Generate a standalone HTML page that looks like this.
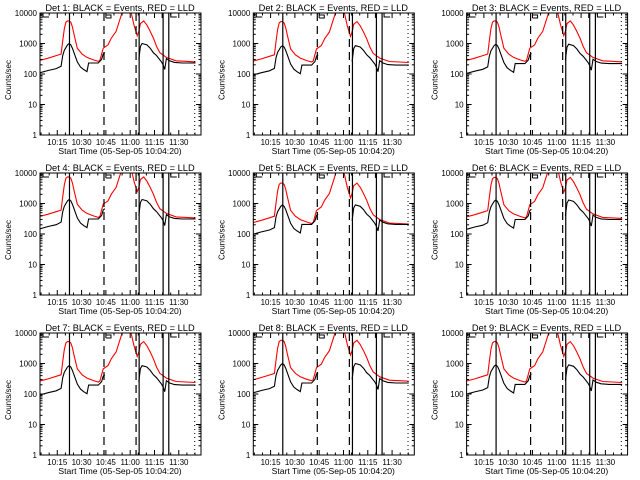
<!DOCTYPE html>
<html><head><meta charset="utf-8"><style>
html,body{margin:0;padding:0;background:#fff;}
svg{display:block;font-family:"Liberation Sans",sans-serif;}
</style></head><body>
<svg id="chart" width="640" height="480" viewBox="0 0 640 480" xmlns="http://www.w3.org/2000/svg"></svg>
<script>
// minutes after 10:04:20
const blackTimes = [0,5,10,13,14,15,17,18,19,20,21,23,25,27,29,30,32,36,38,39,40];
const blackVals  = [110,130,150,180,400,600,900,1000,900,700,500,250,170,140,120,230,230,230,300,450,500];
const blackTimes2 = [61,62,63,66,68,70,72,75,76,77,78,80,83,88,96];
const blackVals2  = [300,800,1000,900,700,500,400,250,200,140,320,270,240,230,230];
const redTimes = [0,5,10,13,14,15,16,17,18,19,20,21,23,26,29,33,36,37,39,42,44,47,50,51,56,58,60,61,62,64,66,68,70,72,74,78,84,90,96];
const redVals  = [280,330,400,450,1200,3000,5000,5500,5500,5000,3500,2000,700,450,350,290,260,280,700,900,1500,2500,8000,12000,12000,4000,1800,2500,4500,5500,4000,2500,1500,800,500,350,270,260,250];
const detectors = ['1','2','3','4','5','6','7','8','9'];
const blackScale = [1.0,0.85,0.95,1.35,0.9,1.3,0.85,1.0,0.9];
const redScale   = [1.0,0.95,1.0,1.35,0.85,1.3,0.95,1.05,0.95];
const xTickLabels = ['10:15','10:30','10:45','11:00','11:15','11:30'];
const xTickMins = [10.67,25.67,40.67,55.67,70.67,85.67];
const yTickLabels = ['1','10','100','1000','10000'];
const yTickVals = [1,10,100,1000,10000];
const vLineMins = [18.2,39.5,59.3,61.2,76.0,79.5];
const vLineStyles = ['solid','dash','dash','solid','solid','solid'];

const NS='http://www.w3.org/2000/svg';
const svg=document.getElementById('chart');
function mk(tag,attrs,parent){const e=document.createElementNS(NS,tag);for(const k in attrs)e.setAttribute(k,attrs[k]);parent.appendChild(e);return e;}
const L=40,R=201,T=13,B=135,PXMIN=1.62;
function xs(m){return L+m*PXMIN;}
function ys(v){return T+(4-Math.log10(v))*(B-T)/4;}

detectors.forEach((d,i)=>{
  const col=i%3,row=Math.floor(i/3);
  const g=mk('g',{transform:`translate(${(col*213.3).toFixed(1)},${row*160})`},svg);
  
  
  const t=mk('text',{x:120,y:11,'text-anchor':'middle','font-size':'9.3'},g);
  t.textContent='Det '+d+': BLACK = Events, RED = LLD';
  
  
  const cp=mk('clipPath',{id:'cp'+i},g);mk('rect',{x:L,y:T,width:R-L,height:B-T},cp);
  const rp=redTimes.map((m,k)=>`${k?'L':'M'}${xs(m).toFixed(1)},${ys(redVals[k]*redScale[i]).toFixed(1)}`).join('');
  const red=mk('path',{d:rp,fill:'none',stroke:'#f00','stroke-width':1.1,'clip-path':`url(#cp${i})`},g);
  
  
  [[blackTimes,blackVals],[blackTimes2,blackVals2]].forEach(([tt,vv])=>{
    const bp=tt.map((m,k)=>`${k?'L':'M'}${xs(m).toFixed(1)},${ys(vv[k]*blackScale[i]).toFixed(1)}`).join('');
    const bl=mk('path',{d:bp,fill:'none',stroke:'#000','stroke-width':1.1,'clip-path':`url(#cp${i})`},g);
    
    
  });
  vLineMins.forEach((m,k)=>{
    const ln=mk('line',{x1:xs(m),x2:xs(m),y1:T,y2:B,stroke:'#000','stroke-width':1.2},g);
    if(vLineStyles[k]==='dash')ln.setAttribute('stroke-dasharray','8,5');
    
    
  });
  const dl=mk('line',{x1:xs(95.5),x2:xs(95.5),y1:T,y2:B,stroke:'#000','stroke-width':1,'stroke-dasharray':'1,3'},g);
  
  
  const an=mk('path',{d:`M43,13V17H49 M${xs(39.5)+2},13V15H${xs(39.5)+7}V18H${xs(39.5)+2} M${xs(79.5)+2},13V17H${xs(79.5)+8} M${xs(76)-1},13V18`,fill:'none',stroke:'#000','stroke-width':1},g);
  
  
  const fr=mk('rect',{x:L,y:T,width:R-L,height:B-T,fill:'none',stroke:'#000','stroke-width':1},g);
  
  
  yTickVals.forEach((v,k)=>{
    const y=ys(v);
    mk('line',{x1:L,x2:L+5,y1:y,y2:y,stroke:'#000'},g);mk('line',{x1:R,x2:R-5,y1:y,y2:y,stroke:'#000'},g);
    if(k<4)for(let j=2;j<10;j++){const yy=ys(v*j);mk('line',{x1:L,x2:L+2.5,y1:yy,y2:yy,stroke:'#000'},g);mk('line',{x1:R,x2:R-2.5,y1:yy,y2:yy,stroke:'#000'},g);}
    const tl=mk('text',{x:L-3,y:y+3,'text-anchor':'end','font-size':'8'},g);
    tl.textContent=yTickLabels[k];
    
    
  });
  xTickMins.forEach((m,k)=>{
    const x=xs(m);
    mk('line',{x1:x,x2:x,y1:B,y2:B-5,stroke:'#000'},g);mk('line',{x1:x,x2:x,y1:T,y2:T+5,stroke:'#000'},g);
    for(let j=1;j<3;j++){const xx=xs(m+5*j);if(xx<R){mk('line',{x1:xx,x2:xx,y1:B,y2:B-2.5,stroke:'#000'},g);mk('line',{x1:xx,x2:xx,y1:T,y2:T+2.5,stroke:'#000'},g);}}
    const tl=mk('text',{x:x,y:B+10,'text-anchor':'middle','font-size':'8'},g);
    tl.textContent=xTickLabels[k];
    
    
  });
  for(let j=1;j<3;j++){const xx=xs(10.67-5*j);mk('line',{x1:xx,x2:xx,y1:B,y2:B-2.5,stroke:'#000'},g);mk('line',{x1:xx,x2:xx,y1:T,y2:T+2.5,stroke:'#000'},g);}
  const xl=mk('text',{x:120,y:B+19,'text-anchor':'middle','font-size':'8.6'},g);
  xl.textContent='Start Time (05-Sep-05 10:04:20)';
  
  
  const yl=mk('text',{x:0,y:0,'text-anchor':'middle','font-size':'8',transform:'translate(11,80) rotate(-90)'},g);
  yl.textContent='Counts/sec';
  
  
});
</script>
</body></html>
